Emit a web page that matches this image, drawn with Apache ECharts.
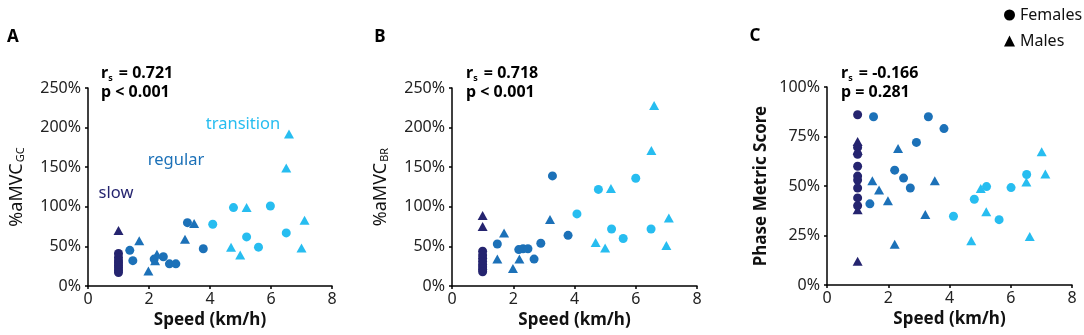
<!DOCTYPE html>
<html>
<head>
<meta charset="utf-8">
<script src="https://cdn.jsdelivr.net/npm/echarts/dist/echarts.min.js"></script>
<style>
  html, body { margin: 0; padding: 0; background: #fff; }
  #chart { width: 1084px; height: 335px; }
</style>
</head>
<body>
<div id="chart"></div>
<script>
// ---- data: [speed km/h, value %] ----
var aSlowF = [[1,41],[1,36],[1,32],[1,29],[1,26],[1,23],[1,20],[1,17]];
var aSlowM = [[1,70]];
var aRegF  = [[1.37,45],[1.47,32],[2.17,34],[2.47,37],[2.67,28],[2.88,28],[3.26,80],[3.78,47]];
var aRegM  = [[1.68,57],[1.98,19],[2.2,32],[2.26,40],[3.18,59],[3.48,79]];
var aTraF  = [[4.09,78],[4.77,99],[5.98,101],[5.2,62],[5.59,49],[6.5,67]];
var aTraM  = [[5.2,99],[6.59,192],[6.5,149],[7.1,83],[4.69,49],[4.99,39],[7.0,48]];

var bSlowF = [[1,44],[1,39],[1,35],[1,31],[1,27],[1,24],[1,21],[1,18]];
var bSlowM = [[1,89],[1,75]];
var bRegF  = [[1.48,53],[2.18,46],[2.32,47],[2.48,47],[2.68,34],[2.9,54],[3.28,139],[3.79,64]];
var bRegM  = [[1.48,34],[1.7,67],[1.99,22],[2.2,34],[3.2,84]];
var bTraF  = [[4.08,91],[4.78,122],[5.21,72],[5.59,60],[6.0,136],[6.5,72]];
var bTraM  = [[4.69,55],[5.0,48],[5.19,123],[6.51,171],[6.6,228],[7.08,86],[7.0,51]];

var cSlowF = [[1,86],[1,69.5],[1,66],[1,60],[1,55],[1,53],[1,49],[1,44],[1,40]];
var cSlowM = [[1,72.5],[1,68],[1,38],[1,12]];
var cRegF  = [[1.52,85],[1.4,41],[2.21,58],[2.5,54],[2.72,49],[2.92,72],[3.31,85],[3.82,79]];
var cRegM  = [[1.48,52.6],[1.7,48],[1.99,42.5],[2.21,20.6],[2.32,69],[3.21,35.6],[3.52,52.6]];
var cTraF  = [[4.13,34.7],[4.81,43.3],[5.21,49.7],[5.62,33],[6.01,49.2],[6.52,55.8]];
var cTraM  = [[4.71,22.4],[5.02,48.7],[5.2,37],[6.51,52],[6.62,24.5],[7.01,67.3],[7.13,56]];

var xTicks = [0, 8, 2];          // min, max, interval
var yTicksAB = [0, 250, 50];
var yTicksC = [0, 100, 25];

var stats = [['0.721', '< 0.001'], ['0.718', '< 0.001'], ['-0.166', '= 0.281']];

var cSlow = '#25246f';
var cReg = '#1c71b8';
var cTra = '#27bdf0';
var FONT = 'Noto Sans';

var grids = [
  { left: 88, top: 88, width: 244, height: 198 },
  { left: 452, top: 88, width: 245, height: 198 },
  { left: 827, top: 87, width: 245, height: 198 }
];

function makeX(i) {
  return {
    type: 'value', gridIndex: i, min: xTicks[0], max: xTicks[1], interval: xTicks[2],
    name: 'Speed (km/h)', nameLocation: 'middle', nameGap: 24,
    nameTextStyle: { fontFamily: FONT, fontSize: 17, fontWeight: 'bold', color: '#111' },
    axisLine: { lineStyle: { color: '#000', width: 1.5 } },
    axisTick: { length: 3, lineStyle: { color: '#000', width: 1.5 } },
    axisLabel: { fontFamily: FONT, fontSize: 16, color: '#222', margin: 5 },
    splitLine: { show: false }
  };
}

function makeY(i, t, name, gap, rich, weight) {
  return {
    type: 'value', gridIndex: i, min: t[0], max: t[1], interval: t[2],
    name: name, nameLocation: 'middle', nameGap: gap, nameRotate: 90,
    nameTextStyle: { fontFamily: FONT, fontSize: 17, fontWeight: weight, color: '#111', rich: rich },
    axisLine: { show: true, lineStyle: { color: '#000', width: 1.5 } },
    axisTick: { show: true, length: 3, lineStyle: { color: '#000', width: 1.5 } },
    axisLabel: { fontFamily: FONT, fontSize: 16, color: '#222', margin: 7, formatter: '{value}%' },
    splitLine: { show: false }
  };
}

function sc(i, sex, data, color) {
  return {
    type: 'scatter', name: sex, xAxisIndex: i, yAxisIndex: i, data: data,
    symbol: sex == 'Females' ? 'circle' : 'triangle',
    symbolSize: sex == 'Females' ? 9 : [10, 9],
    itemStyle: { color: color, opacity: 1 }
  };
}

var series = [];
var sets = [
  [aSlowF, aSlowM, aRegF, aRegM, aTraF, aTraM],
  [bSlowF, bSlowM, bRegF, bRegM, bTraF, bTraM],
  [cSlowF, cSlowM, cRegF, cRegM, cTraF, cTraM]
];
sets.forEach(function (s, i) {
  series.push(sc(i, 'Females', s[4], cTra));
  series.push(sc(i, 'Males', s[5], cTra));
  series.push(sc(i, 'Females', s[2], cReg));
  series.push(sc(i, 'Males', s[3], cReg));
  series.push(sc(i, 'Males', s[1], cSlow));
  series.push(sc(i, 'Females', s[0], cSlow));
});

var subRich = {
  m: { fontFamily: FONT, fontSize: 18, fontWeight: 'normal', color: '#111' },
  sub: { fontFamily: FONT, fontSize: 11, fontWeight: 'normal', color: '#111', padding: [0, 0, 0, 1], verticalAlign: 'bottom', lineHeight: 14 }
};
var statRich = {
  b: { fontFamily: FONT, fontSize: 16, fontWeight: 'bold', color: '#111', lineHeight: 19 },
  s: { fontFamily: FONT, fontSize: 9, fontWeight: 'bold', color: '#111', verticalAlign: 'bottom', lineHeight: 12, padding: [0, 2, 0, 0] }
};

function statText(x, y, k) {
  return {
    type: 'text', left: x, top: y,
    style: { text: '{b|r}{s|s}{b| = ' + stats[k][0] + '}\n{b|p ' + stats[k][1] + '}', rich: statRich }
  };
}

function label(x, y, txt, color, size, bold) {
  return {
    type: 'text', x: x, y: y,
    style: { text: txt, fill: color, fontFamily: FONT, fontSize: size, fontWeight: bold ? 'bold' : 'normal', align: 'center', verticalAlign: 'middle' }
  };
}

var option = {
  animation: false,
  grid: grids,
  xAxis: [makeX(0), makeX(1), makeX(2)],
  yAxis: [
    makeY(0, yTicksAB, '{m|%aMVC}{sub|GC}', 62, subRich, 'normal'),
    makeY(1, yTicksAB, '{m|%aMVC}{sub|BR}', 62, subRich, 'normal'),
    makeY(2, yTicksC, 'Phase Metric Score', 57, null, 'bold')
  ],
  legend: {
    orient: 'vertical', left: 999, top: 2, itemWidth: 11, itemHeight: 11, itemGap: 10,
    textStyle: { fontFamily: FONT, fontSize: 16, color: '#111' },
    data: [
      { name: 'Females', icon: 'circle', itemStyle: { color: '#000' } },
      { name: 'Males', icon: 'triangle', itemStyle: { color: '#000' } }
    ]
  },
  series: series,
  graphic: [
    label(13, 37, 'A', '#000', 17, true),
    label(380, 37, 'B', '#000', 17, true),
    label(755, 36, 'C', '#000', 17, true),
    statText(101, 65, 0),
    statText(466, 65, 1),
    statText(841, 65, 2),
    label(116, 193, 'slow', cSlow, 16.5, false),
    label(176, 160, 'regular', cReg, 16.5, false),
    label(243, 124, 'transition', cTra, 16.5, false)
  ]
};

var chart = echarts.init(document.getElementById('chart'));
chart.setOption(option);
</script>
</body>
</html>
